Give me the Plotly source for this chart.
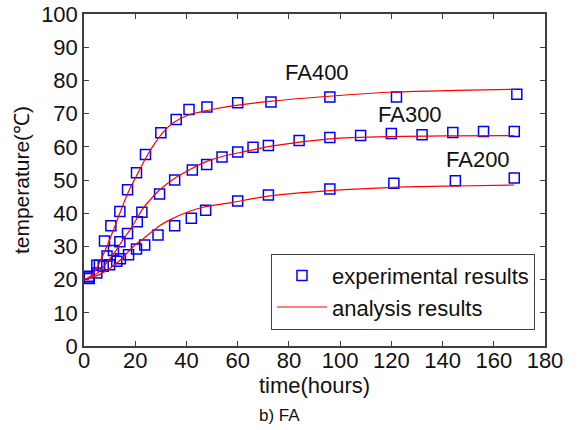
import plotly.graph_objects as go

# ---- experimental data (time in hours, temperature in degC) ----
fa400_t = [2, 5, 8, 10.5, 14, 17, 20.5, 24, 30, 36, 41, 48, 60, 73, 96, 122, 169]
fa400_T = [20.5, 24.3, 31.6, 36.2, 40.5, 47.1, 52.2, 57.7, 64.2, 68.2, 71.2, 72.0, 73.3, 73.5, 75.0, 75.0, 75.8]

fa300_t = [2, 6, 9, 11.5, 14, 17, 20.8, 22.6, 29.5, 35.4, 42.3, 47.9, 53.9, 60, 66, 72, 84, 96, 108, 120, 132, 144, 156, 168]
fa300_T = [21.0, 24.3, 27.1, 28.8, 31.4, 33.9, 37.4, 40.3, 45.8, 50.0, 53.0, 54.7, 56.9, 58.4, 59.9, 60.4, 61.9, 62.8, 63.4, 64.0, 63.6, 64.3, 64.6, 64.6]

fa200_t = [2, 5, 7.5, 10, 12.8, 14.2, 17.4, 20.5, 23.7, 28.9, 35.4, 41.9, 47.5, 60, 72, 96, 121, 145, 168]
fa200_T = [20.3, 22.0, 24.0, 24.5, 25.5, 26.3, 27.5, 29.2, 30.4, 33.4, 36.2, 38.5, 40.9, 43.7, 45.5, 47.3, 49.0, 49.8, 50.6]

# ---- analysis curves ----
an400_t = [0, 2.5, 5, 7.5, 10.5, 13.5, 16, 18, 20, 22, 24, 27, 31, 35, 40.5, 48.5, 58, 72.5, 97, 121, 145.5, 168]
an400_T = [20, 21, 23.5, 27.5, 33, 39, 44, 47.5, 50.5, 53.5, 56.5, 60.3, 64.5, 67.3, 69.5, 71, 72.3, 73.7, 75.3, 76.5, 77, 77.3]

an300_t = [0, 2.5, 5, 7.5, 10, 12.8, 15, 18, 20.5, 22.6, 25, 29.5, 36, 41.2, 48, 55, 65, 73, 96, 121, 145, 168]
an300_T = [20, 20.7, 21.8, 23.8, 26.2, 29.1, 31.8, 35, 38.2, 41, 43.3, 47, 50.8, 53.1, 55.6, 57.3, 58.9, 60.2, 62.4, 63.1, 63.3, 63.4]

an200_t = [0, 3, 6, 9, 12.8, 15, 18, 20.5, 23.3, 29.5, 33.5, 41, 46.5, 57.5, 72.5, 96, 121, 145, 168]
an200_T = [20, 20.6, 21.5, 22.8, 25, 26.5, 29, 30.8, 32.4, 36.2, 38, 40.5, 41.8, 43.2, 45.2, 46.8, 47.8, 48.2, 48.5]

labels = ["FA400", "FA300", "FA200"]
label_t = [91, 127.3, 153.9]
label_T = [82.3, 69.7, 56.1]

FONT = "Arial, 'Liberation Sans', sans-serif"
AX = "#404040"
TXT = "#111111"

L, R, T, B = 84.0, 545.0, 14.4, 346.4   # plot-area edges in page pixels
W, H = 580, 430

fig = go.Figure()

exp_sets = [(fa400_t, fa400_T), (fa300_t, fa300_T), (fa200_t, fa200_T)]
an_sets = [(an400_t, an400_T), (an300_t, an300_T), (an200_t, an200_T)]

for i, (t, T_) in enumerate(exp_sets):
    fig.add_trace(go.Scatter(
        x=t, y=T_, mode="markers", name="experimental results",
        showlegend=(i == 0),
        marker=dict(symbol="square-open", size=10, color="#0000ff",
                    line=dict(width=1.5, color="#0000ff")),
    ))
for i, (t, T_) in enumerate(an_sets):
    fig.add_trace(go.Scatter(
        x=t, y=T_, mode="lines", name="analysis results",
        showlegend=(i == 0),
        line=dict(color="#ff0000", width=1.2, shape="spline", smoothing=0.8),
    ))

for txt, xt, yt in zip(labels, label_t, label_T):
    fig.add_annotation(x=xt, y=yt, text=txt, showarrow=False,
                       font=dict(family=FONT, size=22, color=TXT))

fig.add_annotation(xref="paper", yref="paper", x=(279 - L) / (R - L), y=(B - 416) / (B - T),
                   xanchor="center", yanchor="middle",
                   text="b) FA", showarrow=False,
                   font=dict(family=FONT, size=17, color=TXT))

axis_common = dict(
    showline=True, linecolor=AX, linewidth=1.5, mirror="ticks",
    ticks="inside", ticklen=5, tickcolor=AX, tickwidth=1,
    showgrid=False, zeroline=False,
    tickfont=dict(family=FONT, size=22, color=TXT),
)

fig.update_xaxes(range=[0, 180], dtick=20, tick0=0, ticklabelstandoff=-6,
                 title=dict(text="time(hours)", font=dict(family=FONT, size=22, color=TXT), standoff=0),
                 **axis_common)
fig.update_yaxes(range=[0, 100], dtick=10, tick0=0,
                 title=dict(text="temperature(℃)", font=dict(family=FONT, size=21, color=TXT), standoff=6),
                 **axis_common)

fig.update_layout(
    width=W, height=H,
    margin=dict(l=L, r=W - R, t=T, b=H - B, autoexpand=False),
    plot_bgcolor="white", paper_bgcolor="white",
    font=dict(family=FONT, size=22, color=TXT),
    legend=dict(x=(535 - L) / (R - L), y=(B - 330) / (B - T), xanchor="right", yanchor="bottom",
                bordercolor="#404040", borderwidth=1, bgcolor="white",
                font=dict(family=FONT, size=22, color=TXT),
                tracegroupgap=0, itemwidth=50),
)

fig.write_html("out.html", config={"displayModeBar": False},
               post_script="document.body.style.margin='0';document.body.style.overflow='hidden';")
